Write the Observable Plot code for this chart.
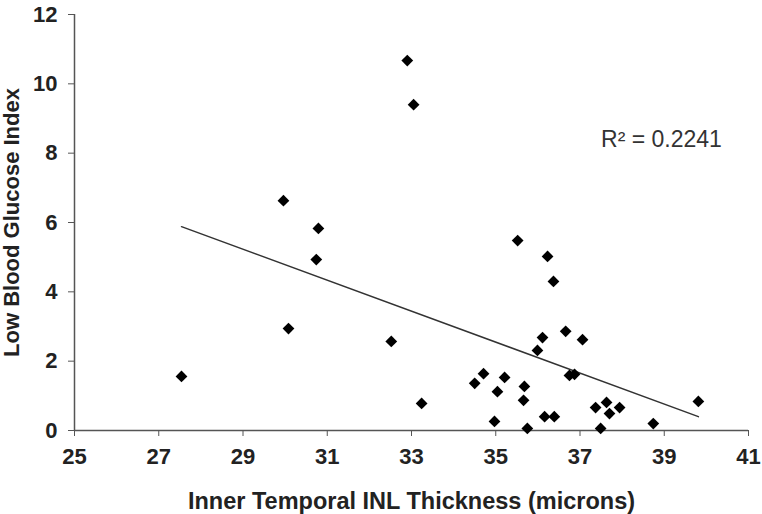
<!DOCTYPE html>
<html>
<head>
<meta charset="utf-8">
<script src="https://cdn.jsdelivr.net/npm/d3@7"></script>
<script src="https://cdn.jsdelivr.net/npm/@observablehq/plot@0.6"></script>
<style>
  html, body { margin: 0; padding: 0; background: #fff; }
  svg { display: block; }
  svg g[aria-label*="tick label"] text { font-size: 22px !important; font-weight: bold; }
  svg g[aria-label="x-axis label"] text { font-size: 23.5px !important; font-weight: bold; }
  svg g[aria-label="y-axis label"] text { font-size: 22px !important; font-weight: bold; }
</style>
</head>
<body>
<div id="chart"></div>
<script>
const thickness = [27.54, 29.96, 30.08, 30.79, 30.74, 32.52, 32.90, 33.05, 33.24, 34.50, 34.71, 34.97, 35.04, 35.21, 35.52, 35.66, 35.68, 35.75, 35.99, 36.11, 36.16, 36.23, 36.37, 36.39, 36.66, 36.75, 36.87, 37.06, 37.37, 37.49, 37.63, 37.70, 37.94, 38.74, 39.81];
const lbgi      = [1.56, 6.63, 2.94, 5.83, 4.93, 2.57, 10.67, 9.40, 0.78, 1.36, 1.64, 0.26, 1.12, 1.53, 5.48, 0.87, 1.27, 0.06, 2.31, 2.68, 0.40, 5.02, 4.30, 0.40, 2.86, 1.59, 1.62, 2.62, 0.66, 0.06, 0.81, 0.49, 0.66, 0.20, 0.84];
const trendX = [27.54, 39.81];
const trendY = [5.88, 0.40];
const xTicks = [25, 27, 29, 31, 33, 35, 37, 39, 41];
const yTicks = [0, 2, 4, 6, 8, 10, 12];
const r2Label = "R² = 0.2241";

const points = thickness.map((x, i) => ({x, y: lbgi[i]}));
const trend = trendX.map((x, i) => ({x, y: trendY[i]}));

const chart = Plot.plot({
  width: 762,
  height: 514,
  marginLeft: 74,
  marginRight: 14,
  marginTop: 14,
  marginBottom: 84,
  style: {fontFamily: "'Liberation Sans', Arial, sans-serif", background: "#fff", color: "#222", fontSize: "22px"},
  x: {domain: [25, 41]},
  y: {domain: [0, 12]},
  marks: [
    Plot.ruleX([25], {stroke: "#555", strokeWidth: 1.5}),
    Plot.ruleY([0], {stroke: "#555", strokeWidth: 1.5}),
    Plot.axisX({ticks: xTicks, tickSize: 6, tickPadding: 12, stroke: "#555", fontSize: 22, fontWeight: "bold",
      tickFormat: d => String(d), label: "Inner Temporal INL Thickness (microns)", labelAnchor: "center", labelArrow: "none", labelOffset: 78}),
    Plot.axisY({ticks: yTicks, tickSize: 6, tickPadding: 11, stroke: "#555", fontSize: 22, fontWeight: "bold",
      tickFormat: d => String(d), label: "Low Blood Glucose Index", labelAnchor: "center", labelArrow: "none", labelOffset: 71}),
    Plot.line(trend, {x: "x", y: "y", stroke: "#333", strokeWidth: 1.5}),
    Plot.dot(points, {x: "x", y: "y", symbol: "diamond2", r: 5.3, fill: "#000", stroke: "none"}),
    Plot.text([r2Label], {x: 37.5, y: 8.4, text: d => d, textAnchor: "start", fontSize: 23, fill: "#333"})
  ]
});
document.getElementById("chart").appendChild(chart);
</script>
</body>
</html>
